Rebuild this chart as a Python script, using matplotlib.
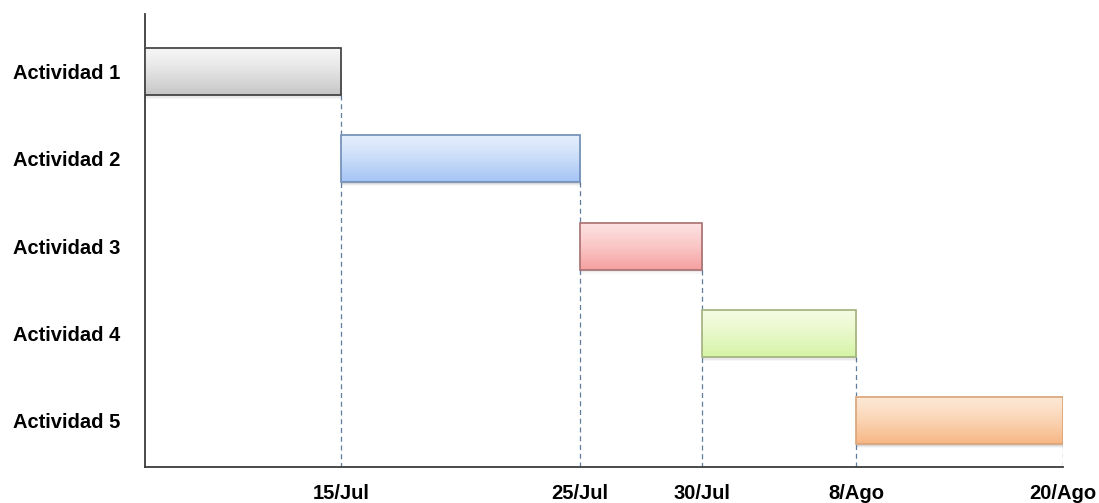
import numpy as np
import matplotlib.pyplot as plt
from matplotlib.patches import Rectangle

# Datos del diagrama (posiciones en el eje, no es escala real de días)
actividades = ['Actividad 1', 'Actividad 2', 'Actividad 3', 'Actividad 4', 'Actividad 5']
inicio = [0.0, 8.17, 18.13, 23.21, 29.63]
fin = [8.17, 18.13, 23.21, 29.63, 38.25]
fechas = ['15/Jul', '25/Jul', '30/Jul', '8/Ago', '20/Ago']

# colores: arriba, abajo, borde
colores = [
    ('#f6f6f6', '#c6c6c6', '#3a3a3a'),
    ('#e4eefc', '#a4c3f5', '#6f8db5'),
    ('#fde0e0', '#f6a0a0', '#a87070'),
    ('#f5fbe2', '#d4f4a4', '#a3b07e'),
    ('#fde8d5', '#f7b684', '#d9a47a'),
]

plt.rcParams['font.family'] = ['Liberation Sans', 'DejaVu Sans']

fig = plt.figure(figsize=(10.99, 5.03), dpi=100)
ax = fig.add_axes([145 / 1099, 36 / 503, 918 / 1099, 453 / 503])

n = len(actividades)
ys = np.arange(n)
alto = 0.54

for i in range(n):
    y = ys[i]
    arriba, abajo, borde = colores[i]
    c1 = np.array(plt.matplotlib.colors.to_rgb(arriba))
    c2 = np.array(plt.matplotlib.colors.to_rgb(abajo))
    t = np.linspace(0, 1, 64)[:, None] ** 1.3
    grad = (c1 * (1 - t) + c2 * t)[:, None, :]
    # sombra suave
    for k, a in enumerate([0.07, 0.05, 0.03]):
        d = 0.015 * (k + 1)
        ax.add_patch(Rectangle((inicio[i] + 0.02, y - alto / 2 + d), fin[i] - inicio[i], alto,
                               facecolor='#000000', alpha=a, edgecolor='none', zorder=2))
    ax.imshow(grad, extent=[inicio[i], fin[i], y + alto / 2, y - alto / 2],
              aspect='auto', zorder=3, interpolation='bilinear')
    ax.add_patch(Rectangle((inicio[i], y - alto / 2), fin[i] - inicio[i], alto,
                           facecolor='none', edgecolor=borde, linewidth=1.2, zorder=4))
    # línea punteada hasta el eje
    ax.plot([fin[i], fin[i]], [y + alto / 2, n - 0.47], linestyle=(0, (4, 3)),
            color='#5f7d9c', linewidth=0.9, zorder=1)

ax.set_xlim(0, fin[-1])
ax.set_ylim(n - 0.47, -0.66)
ax.set_yticks(ys)
ax.set_yticklabels(actividades, fontsize=14.5, fontweight='bold')
ax.set_xticks(fin)
ax.set_xticklabels(fechas, fontsize=14.5, fontweight='bold')
ax.tick_params(axis='both', length=0)
ax.tick_params(axis='y', pad=18)
ax.tick_params(axis='x', pad=12)

for s in ['top', 'right']:
    ax.spines[s].set_visible(False)
for s in ['left', 'bottom']:
    ax.spines[s].set_color('#3c3c3c')
    ax.spines[s].set_linewidth(1.3)

ax.set_facecolor('white')
fig.patch.set_facecolor('white')
fig.savefig('out.png', dpi=100)
